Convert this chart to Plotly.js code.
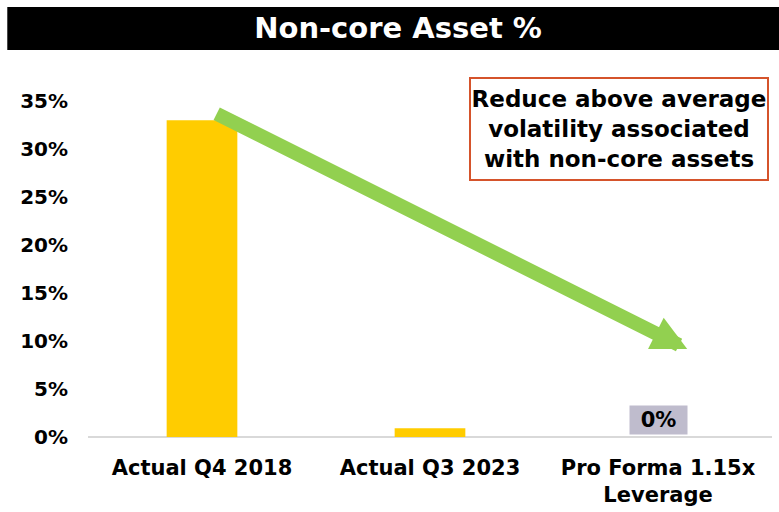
<!DOCTYPE html>
<html><head><meta charset="utf-8">
<script src="https://cdn.plot.ly/plotly-3.0.1.min.js"></script>
<style>html,body{margin:0;padding:0;background:#fff}#c{width:779px;height:512px}</style>
</head><body><div id="c"></div>
<script>
const categories = ["Actual Q4 2018", "Actual Q3 2023", "Pro Forma 1.15x<br>Leverage"];
const values = [0.33, 0.009, 0.0];
const labels = ["", "", "0%"];
const tickVals = [0, 0.05, 0.10, 0.15, 0.20, 0.25, 0.30, 0.35];
const tickText = ["0%", "5%", "10%", "15%", "20%", "25%", "30%", "35%"];
const titleText = "Non-core Asset %";
const noteText = "Reduce above average<br>volatility associated<br>with non-core assets";

const FONT = "DejaVu Sans, Arial, sans-serif";

const annotations = [];
labels.forEach((t, i) => {
  if (t) annotations.push({
    x: categories[i], y: values[i], xref: 'x', yref: 'y', yanchor: 'bottom', yshift: 2,
    text: '<b>' + t + '</b>', showarrow: false, bgcolor: '#BFBCCD',
    font: {family: FONT, size: 21, color: '#000'}, borderpad: 0, width: 57, height: 28
  });
});
annotations.push({
  xref: 'paper', yref: 'paper', x: 0.776, y: 0.917, xanchor: 'center', yanchor: 'middle',
  text: '<b>' + noteText + '</b>', showarrow: false, align: 'center',
  font: {family: FONT, size: 23, color: '#000'}, width: 294, height: 98,
  bordercolor: '#D5532B', borderwidth: 2, borderpad: 1, bgcolor: '#fff'
});
annotations.push({
  xref: 'paper', yref: 'paper', x: 0.876, y: 0.262, ax: -472, ay: -236,
  showarrow: true, arrowhead: 2, arrowsize: 0.5, arrowwidth: 14, arrowcolor: '#92D050', text: ''
});

const data = [{
  type: 'bar', x: categories, y: values, width: 0.31,
  marker: {color: '#FFCC00'}, hoverinfo: 'none'
}];

const layout = {
  width: 779, height: 512,
  margin: {l: 88, r: 7, t: 101, b: 75},
  paper_bgcolor: '#fff', plot_bgcolor: '#fff',
  showlegend: false,
  title: {text: '<b>' + titleText + '</b>', x: 0.511, xref: 'container', xanchor: 'center',
          y: 0.945, yref: 'container', yanchor: 'middle',
          font: {family: FONT, size: 29, color: '#fff'}},
  shapes: [{type: 'rect', xref: 'paper', yref: 'paper', x0: -0.118, x1: 1.02, y0: 1.152, y1: 1.28,
            fillcolor: '#000', line: {width: 0}, layer: 'below'}],
  xaxis: {type: 'category', showgrid: false, zeroline: false, showline: false, ticks: '',
          tickfont: {family: FONT, size: 21, color: '#000'}, ticklabelstandoff: 16},
  yaxis: {range: [0, 0.35], tickvals: tickVals, ticktext: tickText.map(t => '<b>' + t + '</b>'),
          showgrid: false, zeroline: true, zerolinecolor: '#D9D9D9', zerolinewidth: 2,
          showline: false, ticks: '', ticklabelstandoff: 19,
          tickfont: {family: FONT, size: 20, color: '#000'}},
  annotations: annotations
};
layout.xaxis.tickvals = categories;
layout.xaxis.ticktext = categories.map(c => '<b>' + c.replace('<br>', '</b><br><b>') + '</b>');
Plotly.newPlot('c', data, layout, {displayModeBar: false, staticPlot: true});
</script></body></html>
